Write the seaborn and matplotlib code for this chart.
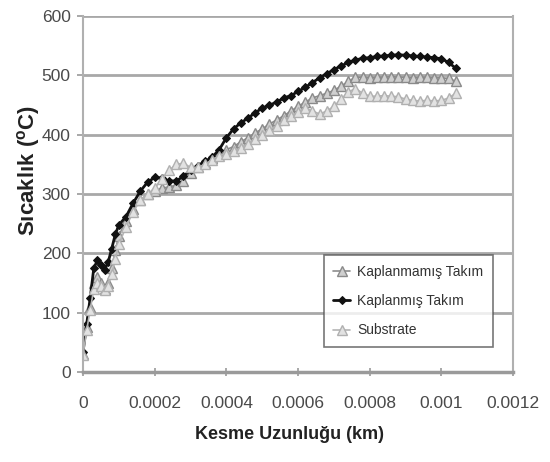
import numpy as np
import pandas as pd
import matplotlib
matplotlib.use("Agg")
import matplotlib.pyplot as plt
import seaborn as sns

# Cutting length (km)
kesme = [0, 0.00001, 0.00002, 0.00003, 0.00004, 0.00005, 0.00006, 0.00007, 0.00008,
         0.00009, 0.0001, 0.00012, 0.00014, 0.00016, 0.00018, 0.0002, 0.00022, 0.00024,
         0.00026, 0.00028, 0.0003, 0.00032, 0.00034, 0.00036, 0.00038, 0.0004, 0.00042,
         0.00044, 0.00046, 0.00048, 0.0005, 0.00052, 0.00054, 0.00056, 0.00058, 0.0006,
         0.00062, 0.00064, 0.00066, 0.00068, 0.0007, 0.00072, 0.00074, 0.00076, 0.00078,
         0.0008, 0.00082, 0.00084, 0.00086, 0.00088, 0.0009, 0.00092, 0.00094, 0.00096,
         0.00098, 0.001, 0.00102, 0.00104]

# Temperatures (°C)
kaplanmamis = [30, 75, 110, 150, 160, 150, 140, 150, 175, 205, 230, 255, 275, 290, 300,
               305, 310, 312, 315, 322, 335, 345, 352, 360, 368, 375, 380, 388, 395, 403,
               410, 418, 425, 432, 440, 448, 455, 462, 466, 470, 475, 482, 490, 497, 497,
               496, 497, 497, 498, 497, 497, 496, 497, 497, 496, 496, 495, 490]
kaplanmis = [34, 80, 125, 175, 188, 180, 172, 185, 208, 232, 248, 262, 285, 305, 320,
             328, 327, 322, 322, 330, 340, 348, 355, 362, 375, 395, 410, 420, 428, 437,
             445, 450, 455, 462, 466, 473, 480, 488, 496, 503, 510, 516, 522, 526, 529,
             530, 532, 533, 534, 535, 534, 533, 532, 531, 530, 528, 522, 512]
substrate = [28, 70, 105, 140, 150, 145, 138, 145, 165, 190, 215, 245, 270, 290, 300,
             310, 325, 340, 350, 352, 345, 345, 350, 358, 365, 368, 372, 378, 385, 393,
             400, 408, 415, 425, 432, 438, 445, 440, 435, 440, 448, 460, 472, 478, 470,
             465, 465, 466, 465, 464, 460, 458, 457, 458, 457, 458, 462, 470]

x_ticks = [0, 0.0002, 0.0004, 0.0006, 0.0008, 0.001, 0.0012]
x_labels = ["0", "0.0002", "0.0004", "0.0006", "0.0008", "0.001", "0.0012"]
y_ticks = [0, 100, 200, 300, 400, 500, 600]

sns.set_theme(style="white")
plt.rcParams["font.family"] = ["Liberation Sans", "DejaVu Sans"]

fig = plt.figure(figsize=(5.5, 4.62), dpi=100)
ax = fig.add_axes([0.151, 0.195, 0.782, 0.770])

sns.lineplot(x=kesme, y=kaplanmamis, ax=ax, color="#8c8c8c", marker="^",
             markersize=7, markeredgecolor="#8a8a8a", markerfacecolor="#cfcfcf",
             markeredgewidth=1.0, linewidth=1.2, label="Kaplanmamış Takım")
sns.lineplot(x=kesme, y=kaplanmis, ax=ax, color="#111111", marker="D",
             markersize=4.5, markeredgecolor="#111111", linewidth=2.0,
             label="Kaplanmış Takım")
sns.lineplot(x=kesme, y=substrate, ax=ax, color="#b4b4b4", marker="^",
             markersize=7, markeredgecolor="#b0b0b0", markerfacecolor="#e2e2e2",
             markeredgewidth=1.0, linewidth=1.2, label="Substrate")

ax.set_xlim(0, 0.0012)
ax.set_ylim(0, 600)
ax.set_xticks(x_ticks)
ax.set_xticklabels(x_labels)
ax.set_yticks(y_ticks)
ax.yaxis.grid(True, color="#a8a8a8", linewidth=2)
ax.xaxis.grid(False)
ax.set_axisbelow(True)

for side in ["left", "right"]:
    ax.spines[side].set_color("#b0b0b0")
    ax.spines[side].set_linewidth(1.5)
ax.spines["top"].set_visible(False)
ax.spines["bottom"].set_color("#9a9a9a")
ax.spines["bottom"].set_linewidth(2.5)

ax.tick_params(axis="x", direction="inout", length=6, width=1.2, color="#9a9a9a",
               labelsize=12.5, labelcolor="#4a4a4a", pad=14, bottom=True)
ax.tick_params(axis="y", direction="out", length=4, width=1.2, color="#9a9a9a",
               labelsize=12.5, labelcolor="#4a4a4a", pad=5, left=True)

ax.set_xlabel("Kesme Uzunluğu (km)", fontsize=13, fontweight="bold",
              color="#222222")
ax.set_ylabel("Sıcaklık ($\\mathregular{^o}$C)", fontsize=16, fontweight="bold",
              color="#222222")
ax.xaxis.set_label_coords(0.48, -0.177)
ax.yaxis.set_label_coords(-0.126, 0.565)
ax.xaxis.label.set_verticalalignment("center")
ax.yaxis.label.set_verticalalignment("center")

leg = ax.legend(loc="lower right", bbox_to_anchor=(0.969, 0.05), frameon=True,
                fancybox=False, fontsize=10, handlelength=1.2, borderpad=0.7,
                labelspacing=1.1, handletextpad=0.5)
leg.get_frame().set_edgecolor("#555555")
leg.get_frame().set_linewidth(1.2)
for t in leg.get_texts():
    t.set_color("#333333")

fig.savefig("out.png", dpi=100)
